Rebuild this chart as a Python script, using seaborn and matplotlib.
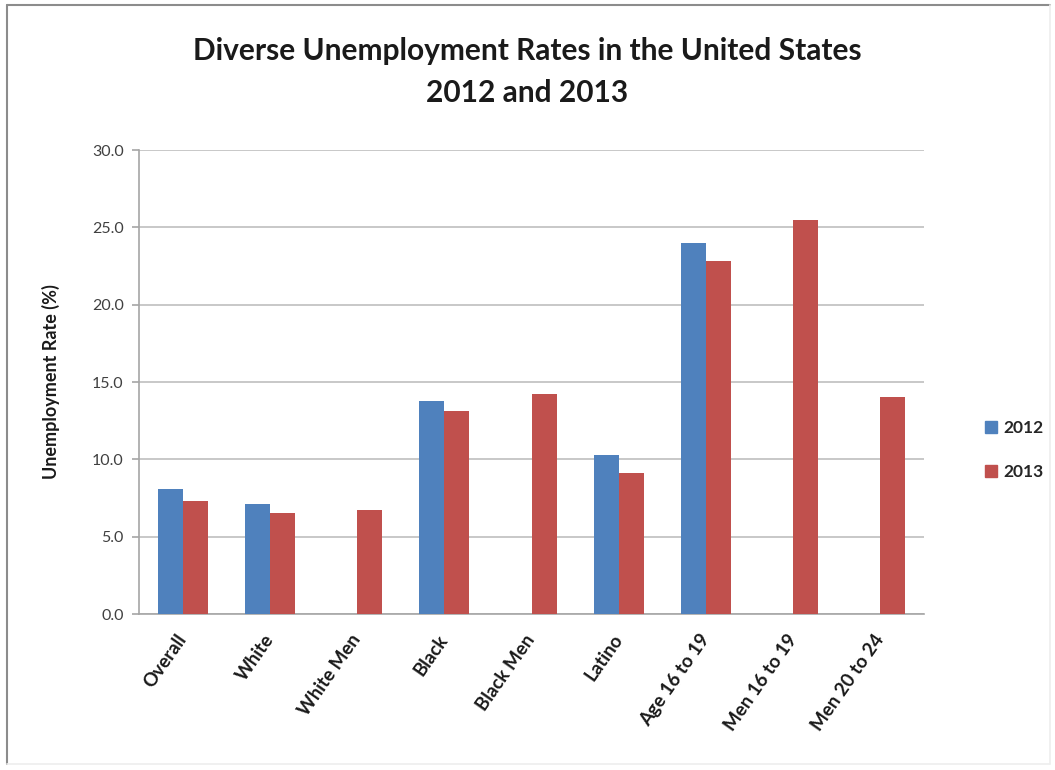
import matplotlib
matplotlib.use("Agg")
import matplotlib.pyplot as plt
import seaborn as sns
import pandas as pd
import numpy as np
from matplotlib.lines import Line2D

categories = ["Overall", "White", "White Men", "Black", "Black Men", "Latino",
              "Age 16 to 19", "Men 16 to 19", "Men 20 to 24"]
rates_2012 = [8.1, 7.1, np.nan, 13.8, np.nan, 10.3, 24.0, np.nan, np.nan]
rates_2013 = [7.3, 6.5, 6.7, 13.1, 14.2, 9.1, 22.8, 25.5, 14.0]
years = ["2012", "2013"]
yticks = [0, 5, 10, 15, 20, 25, 30]

df = pd.DataFrame({
    "Category": categories * 2,
    "Year": [years[0]] * len(categories) + [years[1]] * len(categories),
    "Rate": rates_2012 + rates_2013,
})

sns.set_style("white")
plt.rcParams["font.family"] = ["Lato", "DejaVu Sans"]

fig = plt.figure(figsize=(10.55, 7.7), dpi=100)
ax = fig.add_axes([139 / 1055, 1 - 614 / 770, (924 - 139) / 1055, (614 - 150) / 770])

palette = {"2012": "#4F81BD", "2013": "#C0504D"}
sns.barplot(data=df, x="Category", y="Rate", hue="Year", order=categories,
            hue_order=years, palette=palette, width=0.574, gap=0,
            saturation=1, errorbar=None, ax=ax, legend=False, zorder=3,
            linewidth=0, edgecolor="none")

ax.set_ylim(0, 30)
ax.set_yticks(yticks)
ax.set_yticklabels([f"{v:.1f}" for v in yticks], fontsize=11.5, color="#404040")
ax.yaxis.grid(True, color="#BFBFBF", linewidth=1.2, zorder=0)
ax.set_axisbelow(True)
for s in ["top", "right"]:
    ax.spines[s].set_visible(False)
for s in ["left", "bottom"]:
    ax.spines[s].set_color("#A6A6A6")
    ax.spines[s].set_linewidth(1.2)
ax.tick_params(axis="y", length=5, color="#A6A6A6", width=1.2, pad=6, left=True)
ax.tick_params(axis="x", length=0, pad=16)

ax.set_xticks(range(len(categories)))
ax.set_xticklabels(categories, rotation=55, ha="right", va="center",
                   rotation_mode="anchor", fontsize=13.5, fontweight="bold",
                   color="#1a1a1a")
ax.set_xlabel("")
ax.set_ylabel("Unemployment Rate (%)", fontsize=13, fontweight="bold",
              color="#1a1a1a", labelpad=23)

fig.suptitle("Diverse Unemployment Rates in the United States\n2012 and 2013",
             x=0.5, y=0.952, fontsize=21.5, fontweight="bold", color="#1a1a1a",
             linespacing=1.6)

handles = [Line2D([0], [0], marker="s", linestyle="", markersize=8,
                  markerfacecolor=palette[y], markeredgecolor=palette[y])
           for y in years]
fig.legend(handles, years, loc="center left", bbox_to_anchor=(958 / 1055, 1 - 450 / 770),
           frameon=False, handletextpad=-0.3, labelspacing=1.6,
           prop={"weight": "bold", "size": 12.5})

# outer chart border
fig.add_artist(Line2D([7 / 1055, 7 / 1055], [1 - 5 / 770, 1 - 764 / 770],
                      transform=fig.transFigure, color="#8C8C8C", linewidth=1.5))
fig.add_artist(Line2D([7 / 1055, 1050 / 1055], [1 - 5 / 770, 1 - 5 / 770],
                      transform=fig.transFigure, color="#8C8C8C", linewidth=1.5))
fig.add_artist(Line2D([1050 / 1055, 1050 / 1055], [1 - 5 / 770, 1 - 764 / 770],
                      transform=fig.transFigure, color="#EEEEEE", linewidth=1.2))
fig.add_artist(Line2D([7 / 1055, 1050 / 1055], [1 - 764 / 770, 1 - 764 / 770],
                      transform=fig.transFigure, color="#EEEEEE", linewidth=1.2))

fig.savefig("out.png", dpi=100)
